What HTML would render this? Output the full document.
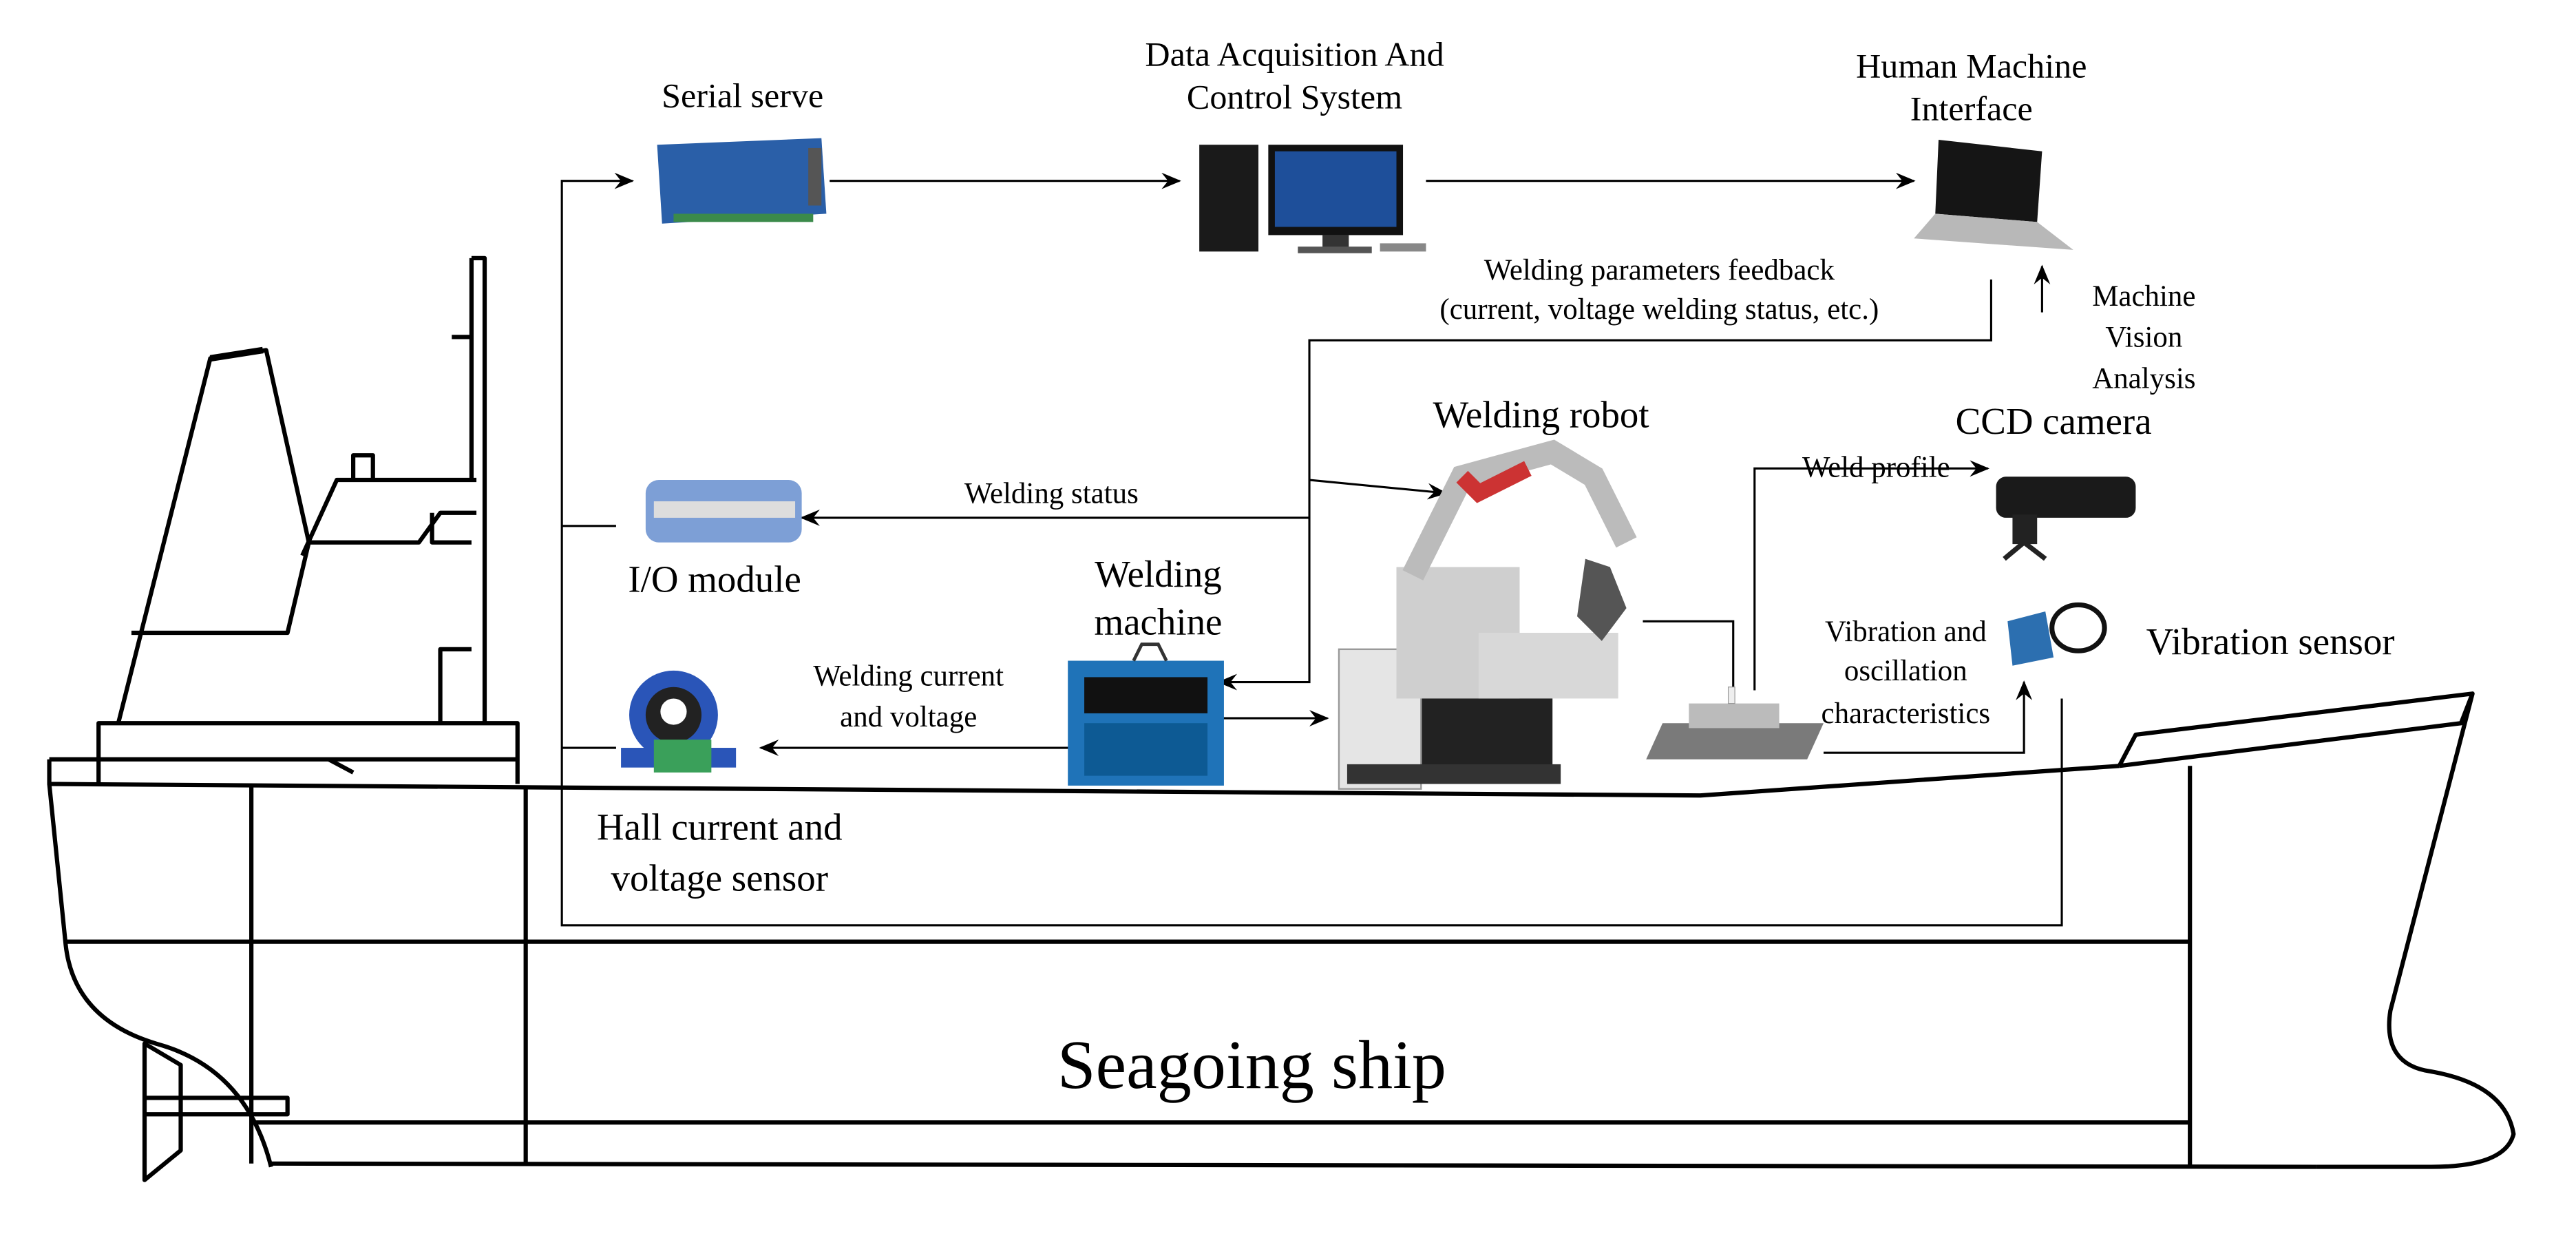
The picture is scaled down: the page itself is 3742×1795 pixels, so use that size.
<!DOCTYPE html>
<html><head><meta charset="utf-8"><style>
html,body{margin:0;padding:0;background:#fff;}
svg{display:block;}
svg text{font-family:'Liberation Serif','DejaVu Serif',serif !important;}
</style></head><body>
<svg width="3742" height="1795" viewBox="0 0 1568 752" xmlns="http://www.w3.org/2000/svg">
<defs>
<marker id="a" markerWidth="12" markerHeight="10" refX="11" refY="5" orient="auto" markerUnits="userSpaceOnUse">
<path d="M0,0 L12,5 L0,10 L4,5 Z" fill="#000"/>
</marker>
</defs>
<g fill="none" stroke="#000" stroke-width="2.6" stroke-linejoin="round">
<path d="M30,462 L315,462 M30,462 L30,477 L1035,484 Q1150,476 1290,466"/>
<path d="M60,477 L60,440 L315,440 L315,477"/>
<path d="M30,477 L40,575 Q45,620 95,635 Q150,650 165,710"/>
<path d="M200,462 L215,470"/>
<path d="M88,635 L88,718 L110,700 L110,648 Z"/>
<path d="M88,668 L175,668 L175,678 L88,678"/>
<path d="M165,708 L1410,710"/>
<path d="M153,683 L1333,683"/>
<path d="M40,573 L1333,573"/>
<path d="M153,477 L153,708 M320,478 L320,708 M1333,466 L1333,710"/>
<path d="M1290,466 L1300,447 L1505,422 L1498,440 L1290,466"/>
<path d="M1505,422 L1455,615 Q1450,648 1480,652 Q1525,660 1530,690 Q1525,710 1480,710 L1410,710"/>
<path d="M72,440 L128,218 L162,213 L188,330"/>
<path d="M128,218 L160,213" stroke-width="4"/>
<path d="M80,385 L175,385 L188,330 L255,330 L268,312 L290,312"/>
<path d="M184,338 L205,292 L290,292"/>
<path d="M215,292 L215,277 L227,277 L227,292"/>
<path d="M287,157 L295,157 L295,440 M287,157 L287,292"/>
<path d="M275,205 L287,205"/>
<path d="M263,312 L263,330 L287,330"/>
<path d="M268,440 L268,395 L287,395"/>
</g>
<g fill="none" stroke="#000" stroke-width="1.3">
<path d="M342,455 L342,563 L1255,563 L1255,425"/>
<path d="M342,455 L342,110 L385,110" marker-end="url(#a)"/>
<path d="M342,320 L375,320 M342,455 L375,455"/>
<path d="M505,110 L718,110" marker-end="url(#a)"/>
<path d="M868,110 L1165,110" marker-end="url(#a)"/>
<path d="M1212,170 L1212,207 L797,207 L797,415 L742,415" marker-end="url(#a)"/>
<path d="M797,315 L488,315" marker-end="url(#a)"/>
<path d="M797,292 L880,300" marker-end="url(#a)"/>
<path d="M655,455 L463,455" marker-end="url(#a)"/>
<path d="M740,437 L808,437" marker-end="url(#a)"/>
<path d="M1000,378 L1055,378 L1055,425"/>
<path d="M1068,420 L1068,285 L1210,285" marker-end="url(#a)"/>
<path d="M1110,458 L1232,458 L1232,415" marker-end="url(#a)"/>
<path d="M1243,190 L1243,162" marker-end="url(#a)"/>
</g>
<polygon points="400,88 500,84 503,130 403,136" fill="#2a5fa8"/>
<rect x="492" y="90" width="8" height="35" fill="#555"/>
<rect x="410" y="130" width="85" height="5" fill="#3b8a4a"/>
<rect x="730" y="88" width="36" height="65" fill="#1a1a1a"/>
<rect x="772" y="88" width="82" height="55" fill="#111"/>
<rect x="776" y="92" width="74" height="46" fill="#1e4f9a"/>
<rect x="805" y="143" width="16" height="8" fill="#333"/>
<rect x="790" y="150" width="45" height="4" fill="#555"/>
<rect x="840" y="148" width="28" height="5" fill="#888"/>
<polygon points="1180,85 1243,92 1240,135 1178,130" fill="#151515"/>
<polygon points="1178,130 1240,135 1262,152 1165,145" fill="#b8b8b8"/>
<rect x="393" y="292" width="95" height="38" rx="8" fill="#7d9fd6"/>
<rect x="398" y="305" width="86" height="10" fill="#ddd"/>
<circle cx="410" cy="435" r="27" fill="#2a55b8"/>
<circle cx="410" cy="435" r="17" fill="#222"/>
<circle cx="410" cy="433" r="8" fill="#fff"/>
<rect x="378" y="455" width="70" height="12" fill="#2a55b8"/>
<rect x="398" y="450" width="35" height="20" fill="#3aa05a"/>
<rect x="650" y="402" width="95" height="76" fill="#1f73b8"/>
<rect x="660" y="412" width="75" height="22" fill="#111"/>
<rect x="660" y="440" width="75" height="32" fill="#0d5a94"/>
<path d="M690,402 L695,392 L705,392 L710,402" fill="none" stroke="#333" stroke-width="2"/>
<g>
<rect x="835" y="400" width="110" height="75" fill="#222"/>
<rect x="815" y="395" width="50" height="85" fill="#e5e5e5" stroke="#999"/>
<rect x="850" y="345" width="75" height="80" fill="#cfcfcf"/>
<rect x="900" y="385" width="85" height="40" fill="#d8d8d8"/>
<path d="M860,350 L890,290 L945,275 L970,290 L990,330" fill="none" stroke="#bbb" stroke-width="14"/>
<path d="M890,290 L900,300 L930,285" fill="none" stroke="#c33" stroke-width="10"/>
<path d="M965,340 L980,345 L990,370 L975,390 L960,375 Z" fill="#555"/>
<rect x="820" y="465" width="130" height="12" fill="#333"/>
</g>
<polygon points="1012,440 1110,440 1100,462 1002,462" fill="#7a7a7a"/>
<rect x="1028" y="428" width="55" height="15" fill="#bbb"/>
<rect x="1052" y="418" width="4" height="10" fill="#eee" stroke="#999" stroke-width="0.5"/>
<rect x="1215" y="290" width="85" height="25" rx="6" fill="#1a1a1a"/>
<rect x="1225" y="313" width="15" height="18" fill="#222"/>
<path d="M1232,330 L1220,340 M1232,330 L1245,340" stroke="#222" stroke-width="3"/>
<polygon points="1222,378 1245,372 1250,400 1225,405" fill="#2c6fb0"/>
<ellipse cx="1265" cy="382" rx="16" ry="14" fill="none" stroke="#111" stroke-width="3"/>
<g style="font-family:'Liberation Serif','DejaVu Serif',serif" fill="#000">
<g font-size="21" text-anchor="middle">
<text x="452" y="65">Serial serve</text>
<text x="788" y="40">Data Acquisition And</text>
<text x="788" y="66">Control System</text>
<text x="1200" y="47">Human Machine</text>
<text x="1200" y="73">Interface</text>
<text x="938" y="260" font-size="23">Welding robot</text>
<text x="1250" y="264" font-size="23">CCD camera</text>
<text x="435" y="360" font-size="23">I/O module</text>
<text x="705" y="357" font-size="23">Welding</text>
<text x="705" y="386" font-size="23">machine</text>
<text x="438" y="511" font-size="23">Hall current and</text>
<text x="438" y="542" font-size="23">voltage sensor</text>
<text x="1382" y="398" font-size="23">Vibration sensor</text>
<text x="762" y="662" font-size="42">Seagoing ship</text>
</g>
<g font-size="18" text-anchor="middle">
<text x="1010" y="170">Welding parameters feedback</text>
<text x="1010" y="194">(current, voltage welding status, etc.)</text>
<text x="1305" y="186">Machine</text>
<text x="1305" y="211">Vision</text>
<text x="1305" y="236">Analysis</text>
<text x="1142" y="290">Weld profile</text>
<text x="640" y="306">Welding status</text>
<text x="553" y="417">Welding current</text>
<text x="553" y="442">and voltage</text>
<text x="1160" y="390">Vibration and</text>
<text x="1160" y="414">oscillation</text>
<text x="1160" y="440">characteristics</text>
</g>
</g>
</svg>
</body></html>
